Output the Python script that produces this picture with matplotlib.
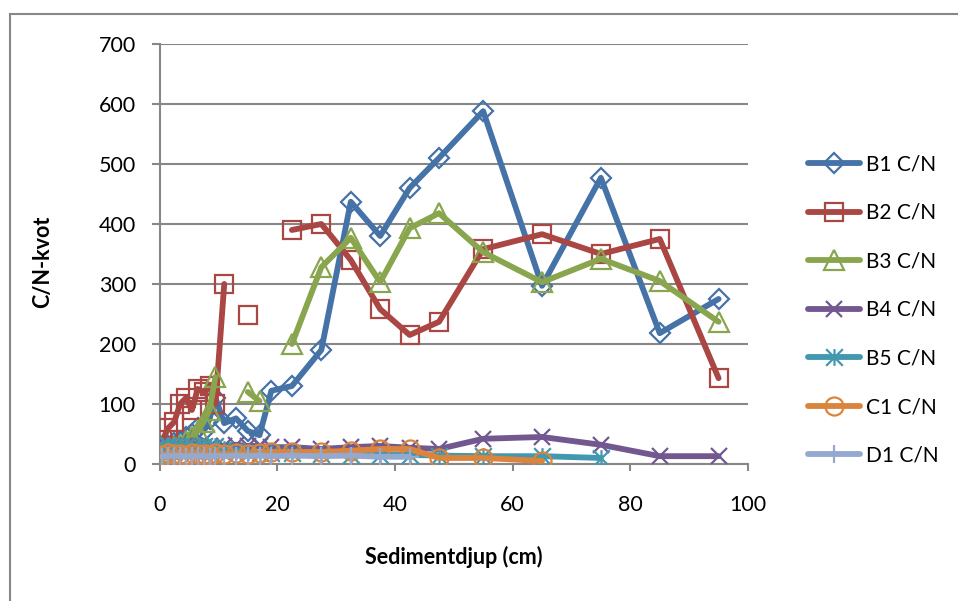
import numpy as np
import matplotlib
matplotlib.use("Agg")
import matplotlib.pyplot as plt
from matplotlib.path import Path
from matplotlib.patches import Rectangle

plt.rcParams['font.family'] = ['Lato', 'DejaVu Sans']

# sample depths (cm)
depth = [0.5, 1.5, 2.5, 3.5, 4.5, 5.5, 6.5, 7.5, 8.5, 9.5,
         11, 13, 15, 17, 19, 22.5, 27.5, 32.5, 37.5, 42.5, 47.5,
         55, 65, 75, 85, 95]

N = None
b1 = [25, 30, 35, 38, 45, 50, 60, 55, 75, 110,
      68, 76, 55, 48, 122, 130, 190, 437, 380, 460, 510,
      588, 297, 477, 218, 275]
b2 = [40, 60, 70, 100, 110, 90, 125, 120, 130, 100,
      300, N, 248, N, N, 390, 400, 340, 258, 215, 237,
      358, 383, 350, 375, 143]
b3 = [20, 25, 28, 32, 38, 45, 55, 70, 90, 145,
      N, N, 120, 105, N, 200, 328, 377, 303, 393, 418,
      353, 303, 342, 305, 237]
b4 = [25, 28, 30, 28, 30, 28, 30, 28, 30, 28,
      30, 32, 30, 30, 28, 28, 25, 28, 30, 27, 25,
      42, 45, 32, 13, 13]
b5 = [30, 32, 30, 28, 30, 28, 25, 30, 28, 30,
      25, 22, 20, 18, 18, 18, 16, 15, 15, 15, 14,
      13, 13, 10, N, N]
c1 = [15, 18, 16, 17, 15, 18, 16, 17, 15, 18,
      16, 18, 17, 18, 20, 20, 20, 22, 25, 25, 10,
      10, 5, N, N, N]
d1 = [12, 14, 13, 14, 12, 14, 13, 14, 12, 14,
      13, 14, 13, 14, 13, 14, 13, 14, 12, 12, N,
      N, N, N, N, N]

labels = ['B1 C/N', 'B2 C/N', 'B3 C/N', 'B4 C/N', 'B5 C/N', 'C1 C/N', 'D1 C/N']
series = [b1, b2, b3, b4, b5, c1, d1]
colors = ['#4572A7', '#AA4643', '#89A54E', '#71588F', '#4198AF', '#DB843D', '#93A9CF']

star = Path([(-1, -1), (1, 1), (-1, 1), (1, -1), (0, -1), (0, 1)],
            [Path.MOVETO, Path.LINETO, Path.MOVETO, Path.LINETO, Path.MOVETO, Path.LINETO])
markers = ['D', 's', '^', 'x', star, 'o', '+']
msizes = [10, 13, 14, 12, 12, 13, 13]

fig = plt.figure(figsize=(9.58, 6.01), dpi=100)
ax = fig.add_axes([0.1665, 0.228, 0.6143, 0.6988])

for i in range(len(series)):
    y = np.array([np.nan if v is None else v for v in series[i]], dtype=float)
    ax.plot(depth, y, color=colors[i], lw=4.2, marker=markers[i], ms=msizes[i],
            mfc='none', mec=colors[i], mew=1.6, label=labels[i], zorder=3 + i,
            solid_capstyle='round', solid_joinstyle='round')

ax.set_xlim(0, 100)
ax.set_ylim(0, 700)
ax.set_xticks(np.arange(0, 101, 20))
ax.set_yticks(np.arange(0, 701, 100))
ax.yaxis.grid(True, color='#878787', lw=1.5)
ax.set_axisbelow(True)
for s in ['top', 'right']:
    ax.spines[s].set_visible(False)
for s in ['left', 'bottom']:
    ax.spines[s].set_color('#878787')
    ax.spines[s].set_linewidth(1.5)
ax.tick_params(axis='y', length=6, width=1.5, color='#878787', pad=11, labelsize=15.5)
ax.tick_params(axis='x', length=5, width=1.5, color='#878787', pad=17, labelsize=15.5)

fig.text(43 / 958, 1 - 262 / 601, 'C/N-kvot', rotation=90, ha='center', va='center',
         fontsize=15.5, fontweight='bold')
fig.text(454 / 958, 1 - 557 / 601, 'Sedimentdjup (cm)', ha='center', va='center',
         fontsize=15.5, fontweight='bold')

ax.legend(loc='center left', bbox_to_anchor=(808 / 958, 1 - 310 / 601),
          bbox_transform=fig.transFigure, frameon=False, fontsize=15,
          handlelength=2.5, handletextpad=0.3, labelspacing=1.37,
          borderpad=0, borderaxespad=0, numpoints=1)

fig.patches.append(Rectangle((10 / 958, -0.5), 2, 0.5 + 1 - 14 / 601,
                             transform=fig.transFigure, fill=False,
                             edgecolor='#878787', lw=1.5))

fig.savefig('out.png', dpi=100)
